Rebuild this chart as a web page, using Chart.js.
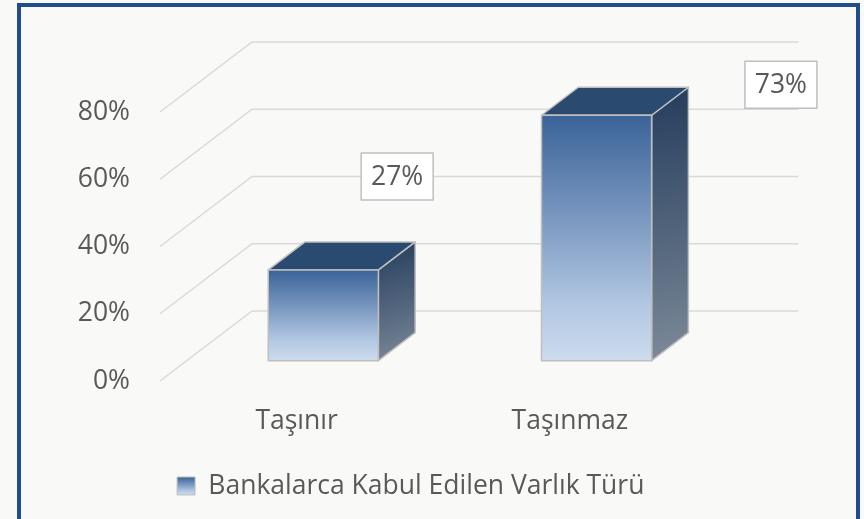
<!DOCTYPE html>
<html>
<head>
<meta charset="utf-8">
<script src="https://cdn.jsdelivr.net/npm/chart.js@4.4.1/dist/chart.umd.min.js"></script>
<style>
html,body{margin:0;padding:0;background:#f9f9f7;}
#wrap{width:864px;height:519px;position:relative;}
</style>
</head>
<body>
<div id="wrap"><canvas id="c" width="864" height="519"></canvas></div>
<script>
// data
const categories=['Taşınır','Taşınmaz'];
const shares=[27,73];
const seriesName='Bankalarca Kabul Edilen Varlık Türü';
const tickMax=80, tickStep=20;
// where each value callout sits, relative to the bar's top back corner
const labelOffsets=[[-18,-65.5],[92.5,-2.5]];

// 3d look
const DEPTH={dx:92,dy:-70};
const BAR_FRONT=0.29,BAR_DEPTH=0.4;
const GRID='#d9d9d9',TXT='#595959',EDGE='#bfbfbf',FRAME='#1f4e8b';
const FS=26.5;
const LEGEND_SHIFT=37.5;
Chart.defaults.font.family="'Open Sans', sans-serif";
Chart.defaults.color=TXT;

function frontGrad(ctx,t,b){const g=ctx.createLinearGradient(0,t,0,b);
  g.addColorStop(0,'#3a6398');g.addColorStop(0.45,'#7f9cc3');g.addColorStop(0.78,'#b3c8e3');g.addColorStop(1,'#cddcee');return g;}

const threeD={id:'threeD',
  afterLayout(chart){
    const lg=chart.legend;if(lg){lg.left+=LEGEND_SHIFT;lg.right+=LEGEND_SHIFT;}
  },
  beforeDraw(chart){
    const lg=chart.legend;if(!lg||!lg.legendHitBoxes.length)return;
    const hb=lg.legendHitBoxes[0];const y0=hb.top+Math.max((FS-18)/2,0);
    lg.legendItems[0].fillStyle=frontGrad(chart.ctx,y0,y0+18);
  },
  beforeDatasetsDraw(chart){
    const {ctx,chartArea:a,scales:{y}}=chart;
    ctx.save();ctx.strokeStyle=GRID;ctx.lineWidth=1.5;
    y.ticks.forEach(tk=>{const py=y.getPixelForValue(tk.value);
      ctx.beginPath();ctx.moveTo(a.left,py);ctx.lineTo(a.left+DEPTH.dx,py+DEPTH.dy);ctx.lineTo(a.right+DEPTH.dx,py+DEPTH.dy);ctx.stroke();});
    ctx.restore();
  },
  afterDatasetsDraw(chart){
    const {ctx}=chart;const meta=chart.getDatasetMeta(0);
    const fx=DEPTH.dx*BAR_FRONT,fy=DEPTH.dy*BAR_FRONT,bx=DEPTH.dx*BAR_DEPTH,by=DEPTH.dy*BAR_DEPTH;
    ctx.save();ctx.lineWidth=1.5;ctx.strokeStyle=EDGE;ctx.lineJoin='round';
    meta.data.forEach((bar,i)=>{
      const l=bar.x-bar.width/2+fx,r=bar.x+bar.width/2+fx,t=bar.y+fy,b=bar.base+fy;
      // side face
      let g=ctx.createLinearGradient(r,t+by,r+bx,b);
      g.addColorStop(0,'#243d5d');g.addColorStop(0.5,'#4f6279');g.addColorStop(1,'#7d8a9a');
      ctx.beginPath();ctx.moveTo(r,t);ctx.lineTo(r+bx,t+by);ctx.lineTo(r+bx,b+by);ctx.lineTo(r,b);ctx.closePath();
      ctx.fillStyle=g;ctx.fill();ctx.stroke();
      // top face
      ctx.beginPath();ctx.moveTo(l,t);ctx.lineTo(l+bx,t+by);ctx.lineTo(r+bx,t+by);ctx.lineTo(r,t);ctx.closePath();
      ctx.fillStyle='#2b4a70';ctx.fill();ctx.stroke();
      // front face
      ctx.fillStyle=frontGrad(ctx,t,b);ctx.fillRect(l,t,r-l,b-t);ctx.strokeRect(l,t,r-l,b-t);
      // callout
      const [ox,oy]=labelOffsets[i];const cx=r+bx+ox,cy=t+by+oy;
      ctx.fillStyle='#ffffff';ctx.fillRect(cx-36,cy-23.5,72,47);ctx.strokeRect(cx-36,cy-23.5,72,47);
      ctx.fillStyle=TXT;ctx.font=FS+"px 'Open Sans', sans-serif";ctx.textAlign='center';ctx.textBaseline='middle';
      ctx.fillText(shares[i]+'%',cx,cy+1);
    });
    ctx.restore();
  },
  afterDraw(chart){
    const {ctx}=chart;ctx.save();ctx.strokeStyle=FRAME;ctx.lineWidth=4;ctx.strokeRect(19,5,839,516);ctx.restore();
  }
};

new Chart(document.getElementById('c'),{
  type:'bar',
  data:{labels:categories,datasets:[{label:seriesName,data:shares,backgroundColor:'rgba(0,0,0,0)',borderWidth:0,
    categoryPercentage:1,barPercentage:0.403}]},
  options:{
    responsive:false,animation:false,devicePixelRatio:1,
    layout:{padding:{left:40,right:157.5,top:112,bottom:9.75}},
    scales:{
      x:{grid:{display:false,drawTicks:false},border:{display:false},
        ticks:{padding:25,font:{size:FS},color:TXT},afterFit(s){s.height=81.75;}},
      y:{min:0,max:tickMax,grid:{display:false,drawTicks:false},border:{display:false},
        ticks:{stepSize:tickStep,padding:30,font:{size:FS},color:TXT,callback:v=>v+'%'},
        afterFit(s){s.width=120;}}
    },
    plugins:{
      tooltip:{enabled:false},
      legend:{position:'bottom',labels:{boxWidth:18,boxHeight:18,font:{size:FS},color:TXT,
        generateLabels:()=>[{text:seriesName,fillStyle:'#7f9cc3',strokeStyle:EDGE,lineWidth:1,fontColor:TXT,datasetIndex:0,hidden:false}]}}
    }
  },
  plugins:[threeD]
});
</script>
</body>
</html>
